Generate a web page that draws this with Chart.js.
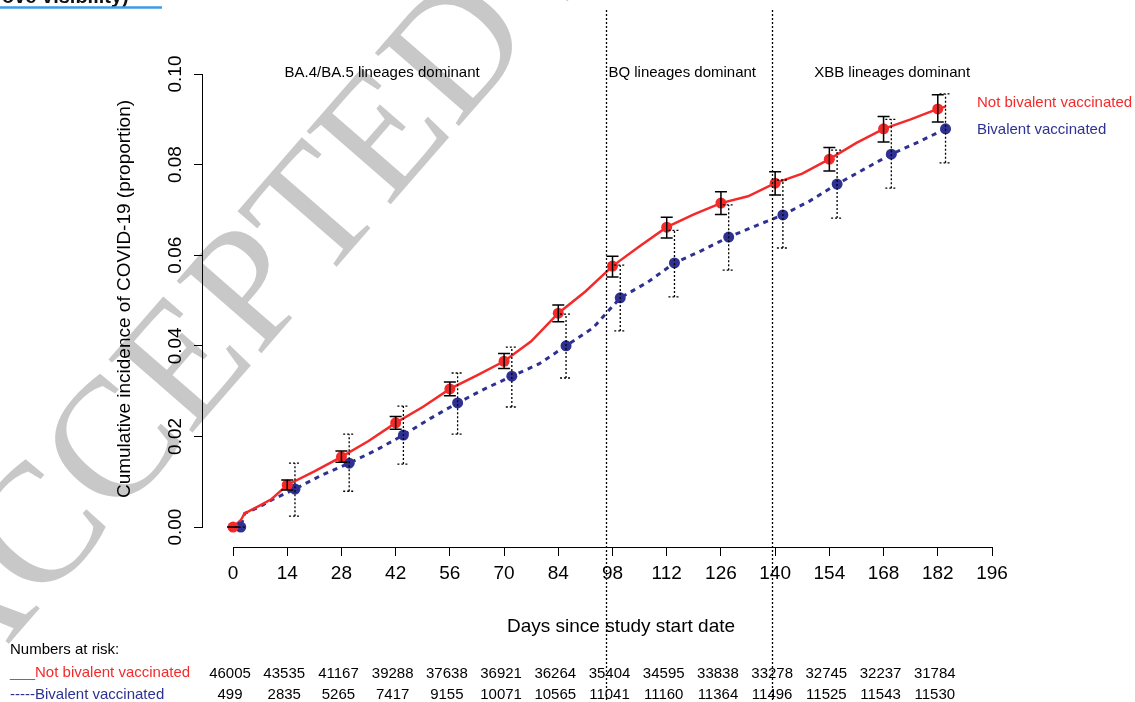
<!DOCTYPE html>
<html>
<head>
<meta charset="utf-8">
<script src="https://cdn.jsdelivr.net/npm/chart.js@4.4.1/dist/chart.umd.min.js"></script>
<style>
  html, body { margin: 0; padding: 0; background: #fff; }
  #wrap { width: 1135px; height: 702px; position: relative; }
</style>
</head>
<body>
<div id="wrap"><canvas id="cumChart" width="1135" height="702"></canvas></div>
<script>
// axis ticks
const dayTicks = [0, 14, 28, 42, 56, 70, 84, 98, 112, 126, 140, 154, 168, 182, 196];
const propTicks = [0, 0.02, 0.04, 0.06, 0.08, 0.10];

// cumulative incidence curves
const redCurveDays = [0, 2, 3, 7, 10, 14, 21, 28, 35, 42, 49, 56, 63, 70, 77, 84, 91, 98, 105, 112, 119, 126, 133, 140, 147, 154, 161, 168, 175, 182, 184];
const redCurve = [0, 0.0015, 0.003, 0.0048, 0.0062, 0.0093, 0.0123, 0.0155, 0.019, 0.023, 0.0265, 0.0305, 0.0335, 0.0366, 0.041, 0.0472, 0.052, 0.0576, 0.062, 0.0662, 0.069, 0.0715, 0.073, 0.0759, 0.078, 0.0812, 0.0848, 0.0879, 0.090, 0.0923, 0.0928];
const blueCurveDays = [0, 2, 3, 7, 10, 16, 23, 30, 37, 44, 51, 58, 65, 72, 79, 86, 93, 100, 107, 114, 121, 128, 135, 142, 149, 156, 163, 170, 177, 184];
const blueCurve = [0, 0, 0.003, 0.0045, 0.006, 0.0084, 0.0115, 0.0141, 0.017, 0.0203, 0.024, 0.0274, 0.0305, 0.0333, 0.036, 0.040, 0.044, 0.0506, 0.054, 0.0583, 0.061, 0.064, 0.0665, 0.0689, 0.072, 0.0757, 0.079, 0.0823, 0.085, 0.0879];

// point estimates with 95% CI
const redMarkDays = [0, 14, 28, 42, 56, 70, 84, 98, 112, 126, 140, 154, 168, 182];
const redMark = [0, 0.0093, 0.0155, 0.023, 0.0305, 0.0366, 0.0472, 0.0576, 0.0662, 0.0715, 0.0759, 0.0812, 0.0879, 0.0923];
const redLo = [0, 0.0082, 0.0143, 0.0216, 0.029, 0.035, 0.0453, 0.0552, 0.0638, 0.069, 0.0733, 0.0786, 0.085, 0.0894];
const redHi = [0, 0.0104, 0.0168, 0.0244, 0.032, 0.0383, 0.049, 0.0598, 0.0684, 0.074, 0.0784, 0.0838, 0.0906, 0.0954];
const blueMarkDays = [2, 16, 30, 44, 58, 72, 86, 100, 114, 128, 142, 156, 170, 184];
const blueMark = [0, 0.0084, 0.0141, 0.0203, 0.0274, 0.0333, 0.040, 0.0506, 0.0583, 0.064, 0.0689, 0.0757, 0.0823, 0.0879];
const blueLo = [0, 0.0024, 0.0079, 0.0139, 0.0205, 0.0265, 0.0329, 0.0433, 0.0508, 0.0567, 0.0616, 0.0682, 0.0748, 0.0804];
const blueHi = [0, 0.0141, 0.0205, 0.0267, 0.034, 0.0397, 0.047, 0.0578, 0.0655, 0.0711, 0.0766, 0.0832, 0.090, 0.0956];

// lineage periods
const lineageCuts = [96.3, 139.2];
const lineageLabels = ['BA.4/BA.5 lineages dominant', 'BQ lineages dominant', 'XBB lineages dominant'];
const lineageLabelDays = [38.5, 116, 170.2];

// numbers at risk
const riskNotBiv = [46005, 43535, 41167, 39288, 37638, 36921, 36264, 35404, 34595, 33838, 33278, 32745, 32237, 31784];
const riskBiv = [499, 2835, 5265, 7417, 9155, 10071, 10565, 11041, 11160, 11364, 11496, 11525, 11543, 11530];

const RED = '#f42a2a';
const BLUE = '#2e3192';
const FONT = '"Liberation Sans", Arial, sans-serif';

function toXY(days, vals) {
    return days.map((d, i) => ({ x: d, y: vals[i] }));
}

const overlay = {
    id: 'overlay',
    beforeDraw(chart) {
        const ctx = chart.ctx;
        ctx.save();
        ctx.fillStyle = '#fff';
        ctx.fillRect(0, 0, chart.width, chart.height);

        // watermark
        ctx.translate(-40, 700);
        ctx.rotate(-49 * Math.PI / 180);
        ctx.fillStyle = '#c8c8c8';
        ctx.font = '170px "Liberation Serif", "DejaVu Serif", serif';
        ctx.textAlign = 'left';
        ctx.textBaseline = 'alphabetic';
        ctx.fillText('ACCEPTED MANUSCRIPT', 0, 0);
        ctx.restore();

        // cut off heading fragment at the top
        ctx.save();
        ctx.fillStyle = '#111';
        ctx.font = 'bold 20px ' + FONT;
        ctx.textBaseline = 'alphabetic';
        ctx.fillText('ove visibility)', 2, 3);
        ctx.strokeStyle = '#3d9be9';
        ctx.lineWidth = 2.5;
        ctx.beginPath();
        ctx.moveTo(0, 7.5);
        ctx.lineTo(162, 7.5);
        ctx.stroke();
        ctx.restore();
    },
    beforeDatasetsDraw(chart) {
        const ctx = chart.ctx;
        const xs = chart.scales.x, ys = chart.scales.y;
        const area = chart.chartArea;
        ctx.save();
        ctx.strokeStyle = '#000';
        ctx.lineWidth = 1;
        // x axis line from first to last tick
        ctx.beginPath();
        ctx.moveTo(xs.getPixelForValue(dayTicks[0]), area.bottom + 0.5);
        ctx.lineTo(xs.getPixelForValue(dayTicks[dayTicks.length - 1]), area.bottom + 0.5);
        ctx.stroke();
        // y axis line
        ctx.beginPath();
        ctx.moveTo(area.left - 0.5, ys.getPixelForValue(propTicks[0]));
        ctx.lineTo(area.left - 0.5, ys.getPixelForValue(propTicks[propTicks.length - 1]));
        ctx.stroke();

        ctx.fillStyle = '#000';
        ctx.font = '19px ' + FONT;
        ctx.textAlign = 'center';
        ctx.textBaseline = 'middle';

        // x tick labels
        dayTicks.forEach(v => {
            ctx.fillText(String(v), xs.getPixelForValue(v), 574);
        });

        // y tick labels, rotated like base R
        propTicks.forEach(v => {
            ctx.save();
            ctx.translate(176, ys.getPixelForValue(v));
            ctx.rotate(-Math.PI / 2);
            ctx.fillText(v.toFixed(2), 0, 0);
            ctx.restore();
        });

        // axis titles
        ctx.save();
        ctx.translate(125, 299);
        ctx.rotate(-Math.PI / 2);
        ctx.fillText('Cumulative incidence of COVID-19 (proportion)', 0, 0);
        ctx.restore();
        ctx.fillText('Days since study start date', 621, 627);
        ctx.restore();
    },
    afterDatasetsDraw(chart) {
        const ctx = chart.ctx;
        const xs = chart.scales.x, ys = chart.scales.y;
        const cap = 6;
        ctx.save();

        // blue CI: dotted
        ctx.strokeStyle = '#000';
        ctx.lineWidth = 1.3;
        ctx.setLineDash([2, 2]);
        blueMarkDays.forEach((d, i) => {
            const px = xs.getPixelForValue(d);
            const lo = ys.getPixelForValue(blueLo[i]);
            const hi = ys.getPixelForValue(blueHi[i]);
            ctx.beginPath();
            ctx.moveTo(px, lo); ctx.lineTo(px, hi);
            ctx.moveTo(px - cap, lo); ctx.lineTo(px + cap, lo);
            ctx.moveTo(px - cap, hi); ctx.lineTo(px + cap, hi);
            ctx.stroke();
        });

        // red CI: solid
        ctx.setLineDash([]);
        ctx.lineWidth = 1.5;
        redMarkDays.forEach((d, i) => {
            const px = xs.getPixelForValue(d);
            const lo = ys.getPixelForValue(redLo[i]);
            const hi = ys.getPixelForValue(redHi[i]);
            ctx.beginPath();
            ctx.moveTo(px, lo); ctx.lineTo(px, hi);
            ctx.moveTo(px - cap, lo); ctx.lineTo(px + cap, lo);
            ctx.moveTo(px - cap, hi); ctx.lineTo(px + cap, hi);
            ctx.stroke();
        });

        // lineage cut lines
        ctx.setLineDash([2, 2]);
        ctx.lineWidth = 1.3;
        lineageCuts.forEach(d => {
            const px = Math.round(xs.getPixelForValue(d)) + 0.5;
            ctx.beginPath();
            ctx.moveTo(px, 10);
            ctx.lineTo(px, chart.height);
            ctx.stroke();
        });
        ctx.setLineDash([]);

        // lineage labels
        ctx.fillStyle = '#000';
        ctx.font = '15px ' + FONT;
        ctx.textAlign = 'center';
        ctx.textBaseline = 'middle';
        lineageLabels.forEach((t, i) => {
            ctx.fillText(t, xs.getPixelForValue(lineageLabelDays[i]), 73);
        });

        // legend
        const lx = chart.chartArea.right - 15;
        ctx.textAlign = 'left';
        ctx.fillStyle = RED;
        ctx.fillText('Not bivalent vaccinated', lx, 103);
        ctx.fillStyle = BLUE;
        ctx.fillText('Bivalent vaccinated', lx, 130);

        // numbers at risk
        ctx.fillStyle = '#000';
        ctx.fillText('Numbers at risk:', 10, 650);
        ctx.fillStyle = RED;
        ctx.fillText('___Not bivalent vaccinated', 10, 673);
        ctx.fillStyle = BLUE;
        ctx.fillText('-----Bivalent vaccinated', 10, 695);
        ctx.fillStyle = '#000';
        ctx.textAlign = 'center';
        riskNotBiv.forEach((n, i) => {
            ctx.fillText(String(n), xs.getPixelForValue(dayTicks[i]) - 3, 674);
        });
        riskBiv.forEach((n, i) => {
            ctx.fillText(String(n), xs.getPixelForValue(dayTicks[i]) - 3, 695);
        });
        ctx.restore();
    }
};

const ctx = document.getElementById('cumChart').getContext('2d');
const chart = new Chart(ctx, {
    type: 'line',
    data: {
        datasets: [
            {
                label: 'Not bivalent vaccinated (estimate)',
                data: toXY(redMarkDays, redMark),
                showLine: false,
                pointRadius: 5.5,
                pointBackgroundColor: RED,
                pointBorderColor: RED,
                pointBorderWidth: 0
            },
            {
                label: 'Bivalent vaccinated (estimate)',
                data: toXY(blueMarkDays, blueMark),
                showLine: false,
                pointRadius: 5.5,
                pointBackgroundColor: BLUE,
                pointBorderColor: BLUE,
                pointBorderWidth: 0
            },
            {
                label: 'Not bivalent vaccinated',
                data: toXY(redCurveDays, redCurve),
                borderColor: RED,
                borderWidth: 2.5,
                pointRadius: 0,
                tension: 0,
                fill: false
            },
            {
                label: 'Bivalent vaccinated',
                data: toXY(blueCurveDays, blueCurve),
                borderColor: BLUE,
                borderWidth: 3,
                borderDash: [5, 5],
                pointRadius: 0,
                tension: 0,
                fill: false
            }
        ]
    },
    options: {
        responsive: false,
        devicePixelRatio: 1,
        animation: false,
        layout: { padding: { left: 194, right: 143, top: 74, bottom: 146 } },
        plugins: {
            legend: { display: false },
            tooltip: { enabled: false }
        },
        scales: {
            x: {
                type: 'linear',
                min: -7.75,
                max: 196,
                afterBuildTicks: (scale) => { scale.ticks = dayTicks.map(v => ({ value: v })); },
                afterFit: (scale) => { scale.height = 9; },
                border: { display: false },
                grid: { drawOnChartArea: false, drawTicks: true, tickLength: 9, color: '#000', lineWidth: 1 },
                ticks: { display: false }
            },
            y: {
                type: 'linear',
                min: -0.0044,
                max: 0.10,
                afterBuildTicks: (scale) => { scale.ticks = propTicks.map(v => ({ value: v })); },
                afterFit: (scale) => { scale.width = 9; },
                border: { display: false },
                grid: { drawOnChartArea: false, drawTicks: true, tickLength: 9, color: '#000', lineWidth: 1 },
                ticks: { display: false }
            }
        }
    },
    plugins: [overlay]
});
</script>
</body>
</html>
